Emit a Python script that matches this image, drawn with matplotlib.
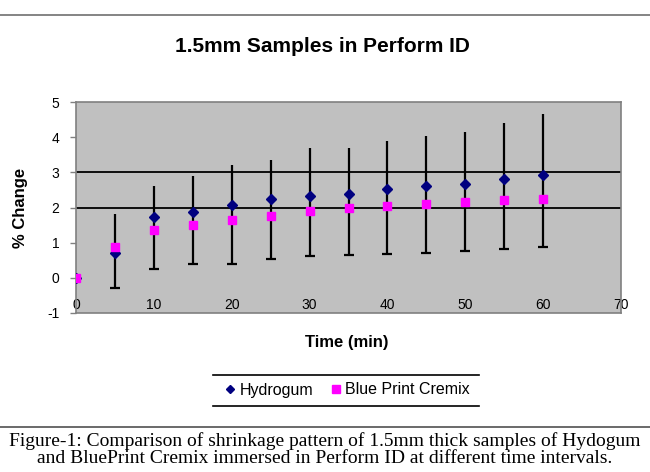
import matplotlib
matplotlib.use("Agg")
import matplotlib.pyplot as plt
from matplotlib.lines import Line2D
import numpy as np

# ---- data ----
time_min = [0, 5, 10, 15, 20, 25, 30, 35, 40, 45, 50, 55, 60]
hydrogum = [0.0, 0.70, 1.72, 1.88, 2.07, 2.23, 2.33, 2.37, 2.52, 2.60, 2.67, 2.80, 2.91]
blueprint = [0.0, 0.88, 1.36, 1.49, 1.64, 1.76, 1.90, 1.98, 2.05, 2.09, 2.15, 2.20, 2.25]
err_high = [0.0, 1.81, 2.62, 2.90, 3.20, 3.35, 3.68, 3.68, 3.90, 4.04, 4.15, 4.41, 4.67]
err_low = [0.0, -0.30, 0.25, 0.40, 0.40, 0.54, 0.62, 0.66, 0.69, 0.71, 0.75, 0.83, 0.89]
grid_levels = [2, 3]
x_ticks = [0, 10, 20, 30, 40, 50, 60, 70]
y_ticks = [-1, 0, 1, 2, 3, 4, 5]
series_names = ["Hydrogum", "Blue Print Cremix"]
title = "1.5mm Samples in Perform ID"
xlabel = "Time (min)"
ylabel = "% Change"
caption = ("Figure-1: Comparison of shrinkage pattern of 1.5mm thick samples of Hydogum\n"
           "and BluePrint Cremix immersed in Perform ID at different time intervals.")

W, H = 650, 472
fig = plt.figure(figsize=(W / 100, H / 100), dpi=100)
fig.patch.set_facecolor("white")

sans = ["Liberation Sans", "DejaVu Sans"]
serif = ["Liberation Serif", "DejaVu Serif"]

L, R, T, B = 76, 621, 102, 313
ax = fig.add_axes([L / W, 1 - B / H, (R - L) / W, (B - T) / H])
ax.set_facecolor("#c0c0c0")
for s in ax.spines.values():
    s.set_color("#808080")
    s.set_linewidth(1.2)

ax.set_xlim(0, 70)
ax.set_ylim(-1, 5)

for g in grid_levels:
    ax.axhline(g, color="black", lw=1.3, zorder=1)

hyd = np.array(hydrogum)
lo = np.array(err_low)
hi = np.array(err_high)
ax.errorbar(time_min, hydrogum, yerr=[hyd - lo, hi - hyd], fmt="none",
            ecolor="black", elinewidth=1.6, capsize=0, zorder=2)
ax.plot(time_min[1:], err_low[1:], linestyle="none", marker="_", markersize=7,
        markeredgewidth=1.6, color="black", zorder=2)

ax.plot(time_min, hydrogum, linestyle="none", marker="D", markersize=5.5,
        color="#000080", zorder=3)
ax.plot(time_min, blueprint, linestyle="none", marker="s", markersize=6,
        color="#ff00ff", zorder=4)

ax.set_xticks(x_ticks)
ax.set_yticks(y_ticks)
ax.set_xticklabels([str(v) for v in x_ticks], fontsize=10, family=sans)
ax.set_yticklabels([str(v) for v in y_ticks], fontsize=10, family=sans)
ax.tick_params(axis="x", length=0, pad=-11)
ax.tick_params(axis="y", length=4, width=1, color="#808080", pad=8)

ax.set_ylabel(ylabel, fontsize=12, fontweight="bold", family=sans)
ax.yaxis.set_label_coords((28 - L) / (R - L), 0.5)
fig.text(347 / W, 1 - 343 / H, xlabel, fontsize=12, fontweight="bold",
         family=sans, ha="center", va="center")

fig.text(322 / W, 1 - 47 / H, title, fontsize=15, fontweight="bold",
         family=sans, ha="center", va="center")

# legend
handles = [Line2D([], [], linestyle="none", marker="D", markersize=4.5, color="#000080"),
           Line2D([], [], linestyle="none", marker="s", markersize=5.5, color="#ff00ff")]
fig.legend(handles, series_names, loc="center", bbox_to_anchor=(346 / W, 1 - 390 / H),
           ncol=2, frameon=False, prop={"family": sans, "size": 11.5},
           handletextpad=0.1, columnspacing=0.9, handlelength=1.0)
for yy in (375, 406):
    fig.add_artist(Line2D([213 / W, 479 / W], [1 - yy / H, 1 - yy / H],
                          color="black", lw=1.2))

# page lines
fig.add_artist(Line2D([0, 1], [1 - 15 / H, 1 - 15 / H], color="#707070", lw=1.2))
fig.add_artist(Line2D([0, 1], [1 - 427 / H, 1 - 427 / H], color="#505050", lw=1.2))

fig.text(325 / W, 1 - 449.5 / H, caption, fontsize=14, family=serif,
         ha="center", va="center", linespacing=1.05)

fig.savefig("out.png", dpi=100)
